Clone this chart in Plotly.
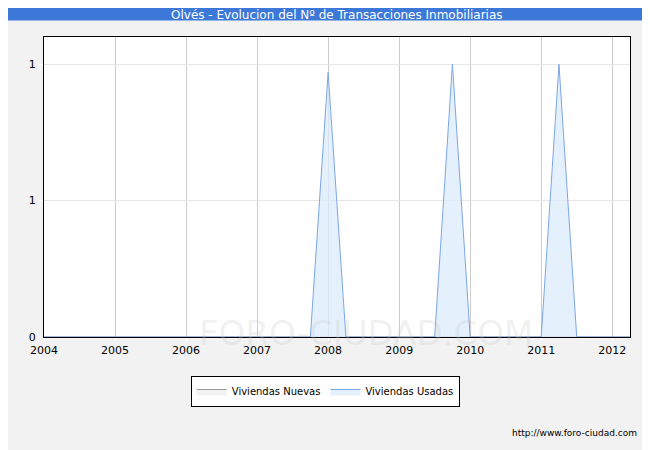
import plotly.graph_objects as go

# quarterly periods
quarters = [2004 + q * 0.25 for q in range(34)]
nuevas = [0] * 34
usadas = [0] * 34
usadas[16] = 0.97   # 2008 Q1
usadas[23] = 1      # 2009 Q4
usadas[29] = 1      # 2011 Q2

years = list(range(2004, 2013))
ytick_vals = [0, 0.5, 1]
ytick_text = ["0", "1", "1"]

fig = go.Figure()
fig.add_trace(go.Scatter(x=quarters, y=nuevas, name="Viviendas Nuevas", mode="lines",
                         line=dict(color="#999999", width=1), fill="tozeroy",
                         fillcolor="rgba(230,230,230,0.5)"))
fig.add_trace(go.Scatter(x=quarters, y=usadas, name="Viviendas Usadas", mode="lines",
                         line=dict(color="#7aa6e6", width=1), fill="tozeroy",
                         fillcolor="rgba(220,235,252,0.75)"))

fig.update_layout(
    width=650, height=450, paper_bgcolor="#f2f2f2", plot_bgcolor="white",
    margin=dict(l=36, r=28, t=29, b=121),
    font=dict(family="DejaVu Sans", size=11, color="black"),
    xaxis=dict(range=[2004, 2012.25], tickvals=years, showgrid=True, gridcolor="#cccccc",
               showline=True, linecolor="black", mirror=True, zeroline=False,
               ticks="outside", ticklen=3, tickcolor="white"),
    yaxis=dict(range=[0, 1.1], tickvals=ytick_vals, ticktext=ytick_text, showgrid=True,
               gridcolor="#e6e6e6", showline=True, linecolor="black", mirror=True,
               zeroline=False, ticks="outside", ticklen=5, tickcolor="white"),
    legend=dict(orientation="h", x=0.48, xanchor="center", y=-0.13, yanchor="top",
                bordercolor="black", borderwidth=1, bgcolor="white", font=dict(size=10)),
    showlegend=True,
    shapes=[dict(type="rect", xref="paper", yref="paper", x0=-0.07, x1=1.06,
                 y0=1.055, y1=1.2, fillcolor="#3c78d8", line=dict(width=0), layer="below")],
    annotations=[
        dict(text="Olvés - Evolucion del Nº de Transacciones Inmobiliarias", xref="paper",
             yref="paper", x=0.5, y=1.072, showarrow=False, yanchor="middle",
             font=dict(color="white", size=12)),
        dict(text="http://www.foro-ciudad.com", xref="paper", yref="paper", x=1.015,
             y=-0.32, showarrow=False, xanchor="right", yanchor="middle",
             font=dict(size=9)),
        dict(text="FORO-CIUDAD.COM", xref="paper", yref="paper", x=0.55, y=-0.06,
             showarrow=False, font=dict(size=34, color="rgba(200,200,200,0.25)")),
    ],
)

fig.write_html("out.html")
